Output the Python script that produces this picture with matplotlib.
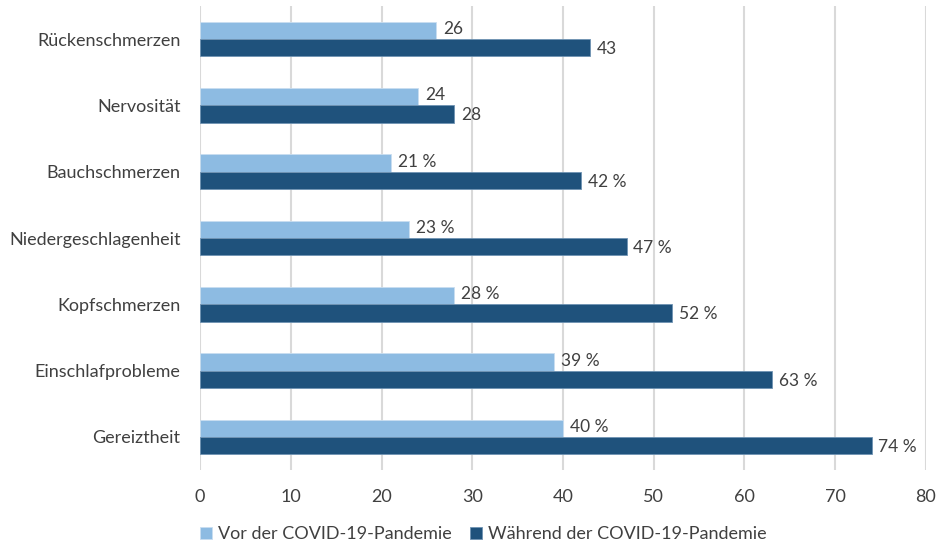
import matplotlib.pyplot as plt
import numpy as np

plt.rcParams['font.family'] = ['Lato', 'DejaVu Sans']

categories = ["Gereiztheit", "Einschlafprobleme", "Kopfschmerzen", "Niedergeschlagenheit",
              "Bauchschmerzen", "Nervosität", "Rückenschmerzen"]
vor = [40, 39, 28, 23, 21, 24, 26]
waehrend = [74, 63, 52, 47, 42, 28, 43]
# the two top rows have no percent sign in the source
vor_labels = ["40 %", "39 %", "28 %", "23 %", "21 %", "24", "26"]
waehrend_labels = ["74 %", "63 %", "52 %", "47 %", "42 %", "28", "43"]

c_vor = "#8dbbe2"
c_waehrend = "#1f527c"
text_col = "#404040"

fig = plt.figure(figsize=(9.36, 5.45), dpi=100)
ax = fig.add_axes([0.2137, 0.1376, 0.7756, 0.8514])

y = np.arange(len(categories))
h = 0.26
ax.barh(y + h / 2, vor, height=h, color=c_vor, edgecolor="#c9def0", linewidth=0.6,
        label="Vor der COVID-19-Pandemie", zorder=3)
ax.barh(y - h / 2, waehrend, height=h, color=c_waehrend, edgecolor="#6f93b3", linewidth=0.6,
        label="Während der COVID-19-Pandemie", zorder=3)

for yi, v, t in zip(y, vor, vor_labels):
    ax.annotate(t, (v, yi + h / 2), xytext=(5, 1), textcoords="offset points",
                ha="left", va="center", fontsize=12.5, color=text_col)
for yi, v, t in zip(y, waehrend, waehrend_labels):
    ax.annotate(t, (v, yi - h / 2), xytext=(5, -1), textcoords="offset points",
                ha="left", va="center", fontsize=12.5, color=text_col)

ax.set_xlim(0, 80)
ax.set_ylim(-0.5, len(categories) - 0.5)
ax.set_xticks(range(0, 81, 10))
ax.set_yticks(y)
ax.set_yticklabels(categories)
ax.tick_params(axis="both", length=0, labelsize=13, colors=text_col)
ax.tick_params(axis="x", pad=14)
ax.tick_params(axis="y", pad=14)
ax.grid(axis="x", color="#d9d9d9", linewidth=1.5, zorder=0)
for s in ax.spines.values():
    s.set_visible(False)

fig.legend(loc="lower center", bbox_to_anchor=(0.516, -0.025), ncol=2, frameon=False,
           fontsize=13, handlelength=0.7, handleheight=0.7, handletextpad=0.3,
           columnspacing=1.0, labelcolor=text_col)

fig.savefig("out.png", dpi=100)
